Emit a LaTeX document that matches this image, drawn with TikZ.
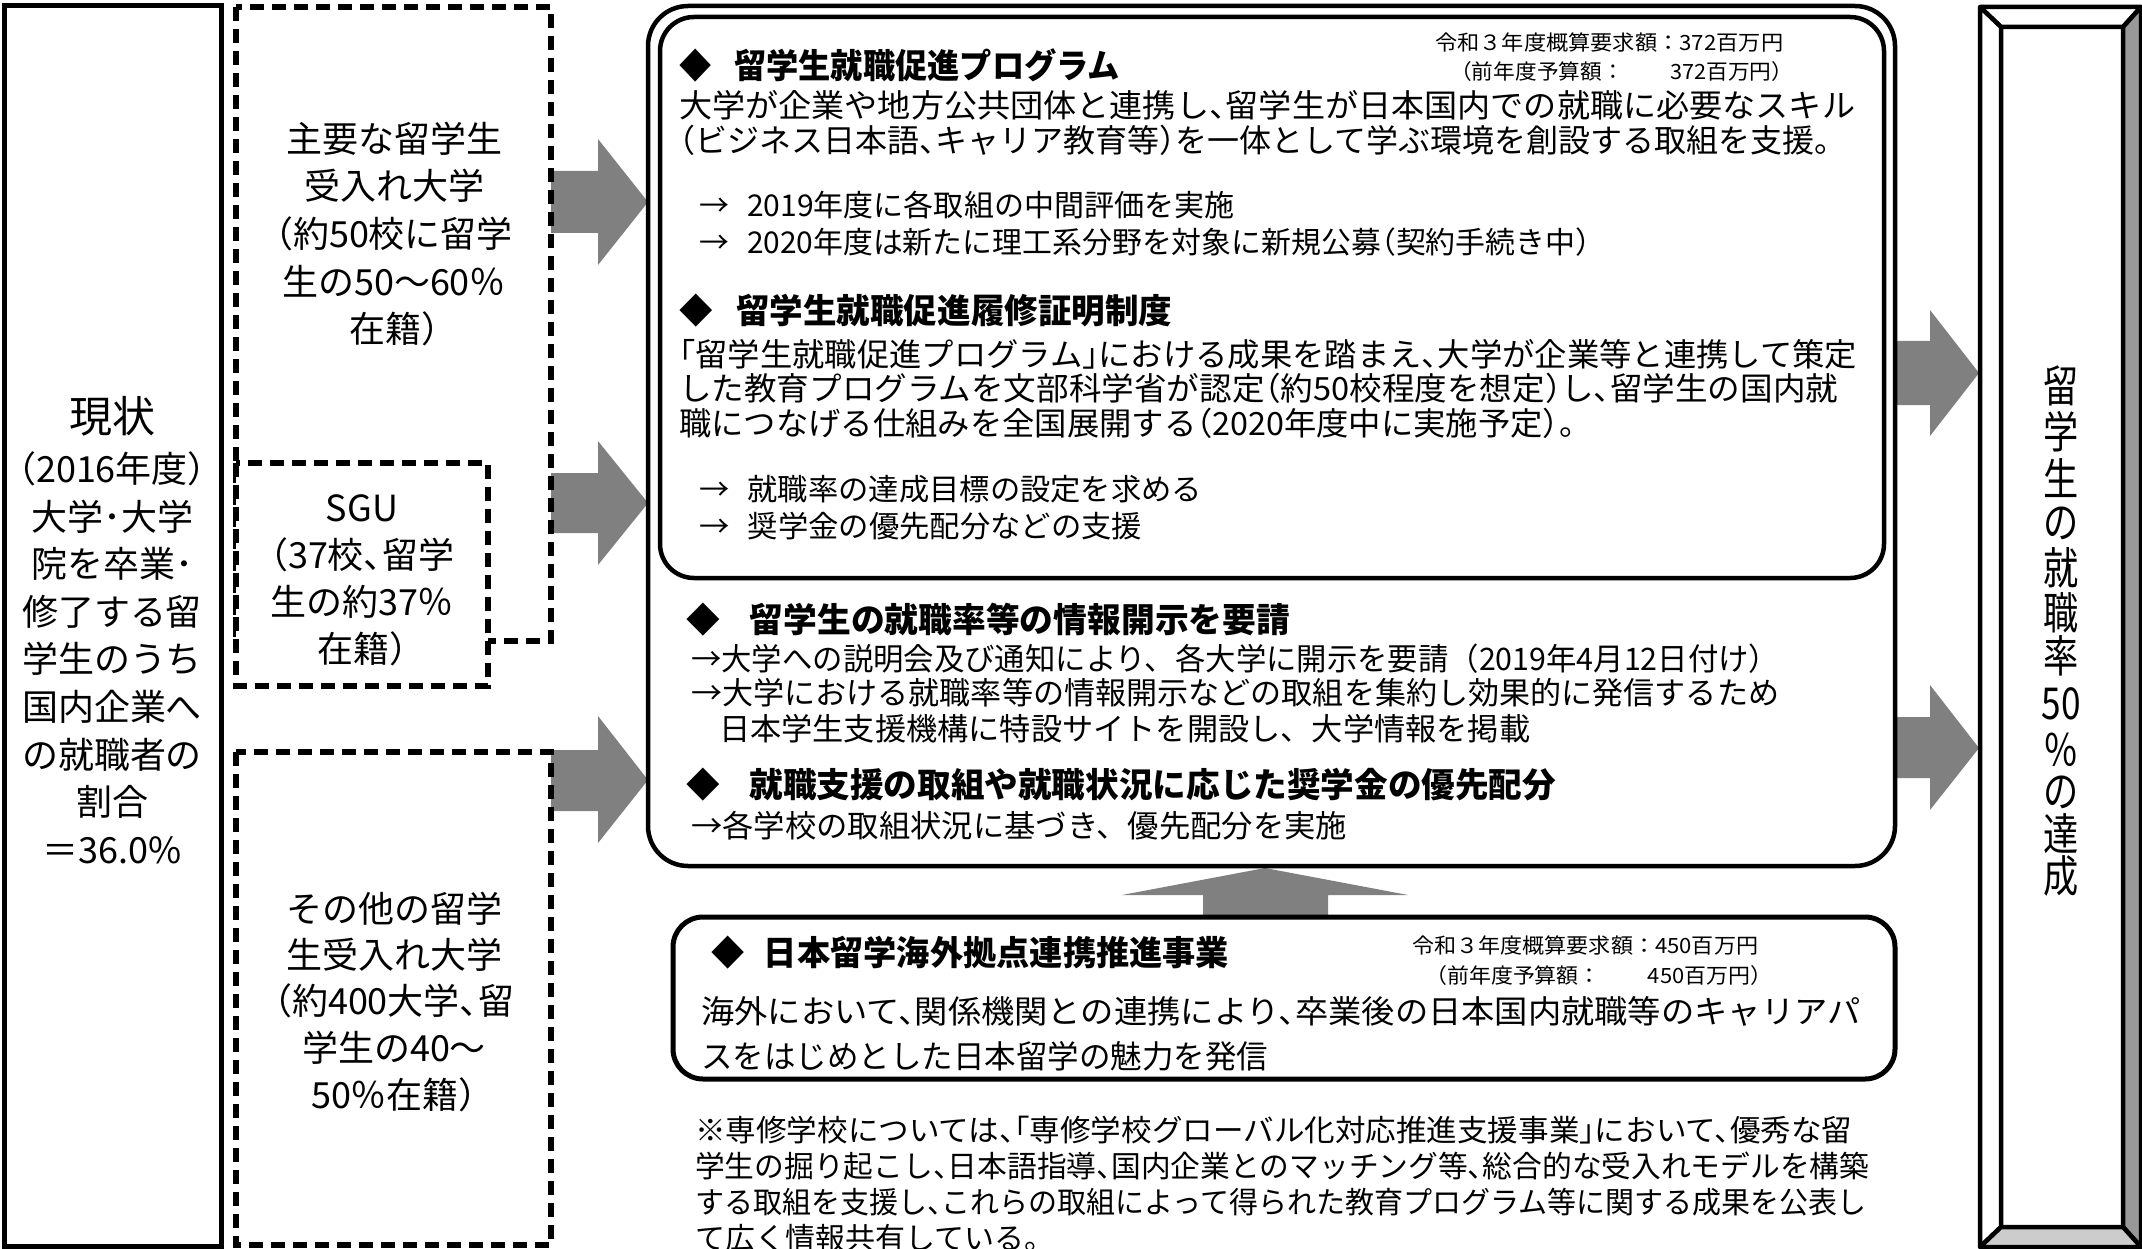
\documentclass[tikz,border=0pt]{standalone}
\usepackage{fontspec}
\usepackage{graphicx}
\setmainfont{Noto Sans CJK JP}[RawFeature=+halt]
\newfontfamily\fullja{Noto Sans CJK JP}
\definecolor{arrowgray}{HTML}{808080}
\definecolor{bevelgray}{HTML}{999999}
\definecolor{bevellight}{HTML}{CCCCCC}
\newcommand{\fs}[1]{\fontsize{#1}{#1}\selectfont}
\newcommand{\myline}[6]{\node[inner sep=0,anchor=west,font=#4] (#1) at (#2,#3) {\resizebox{#5pt}{\height}{#6}};}
\tikzset{
  blockarrow/.style={fill=arrowgray, draw=none},
  solidbox/.style={draw=black, line width=5pt},
  roundbox/.style={draw=black, line width=4.5pt},
  dashbox/.style={draw=black, line width=5.5pt, dash pattern=on 14pt off 8pt},
  lbl/.style={inner sep=0, font=\fs{36}},
  plain/.style={inner sep=0, anchor=west},
}
\begin{document}
\begin{tikzpicture}[x=1pt,y=-1pt]
\useasboundingbox[fill=white] (0,0) rectangle (2142,1249);

% ---- block arrows
\fill[blockarrow] (551,171) -- (598,171) -- (598,139) -- (648,202) -- (598,265) -- (598,233) -- (551,233) -- cycle;
\fill[blockarrow] (551,473) -- (598,473) -- (598,441) -- (648,503) -- (598,565) -- (598,533) -- (551,533) -- cycle;
\fill[blockarrow] (551,750) -- (598,750) -- (598,716) -- (648,780) -- (598,843) -- (598,811) -- (551,811) -- cycle;
\fill[blockarrow] (1894,341) -- (1930,341) -- (1930,310) -- (1979,373) -- (1930,436) -- (1930,405) -- (1894,405) -- cycle;
\fill[blockarrow] (1894,717) -- (1930,717) -- (1930,685) -- (1979,748) -- (1930,810) -- (1930,778) -- (1894,778) -- cycle;
\fill[blockarrow] (1203,917) -- (1203,895) -- (1122,895) -- (1265,868) -- (1408,895) -- (1328,895) -- (1328,917) -- cycle;

% ---- left boxes
\draw[solidbox] (4,6) rectangle (221,1246);
\draw[dashbox] (236,7) rectangle (551,641);
\draw[dashbox, fill=white] (236,463) rectangle (488,686);
\draw[dashbox] (236,752) rectangle (551,1245);

% ---- main box
\draw[roundbox, rounded corners=40pt] (648,6) rectangle (1895,866);
\draw[roundbox, rounded corners=34pt] (660,17) rectangle (1884,578);
% ---- bottom box
\draw[roundbox, line width=5pt, rounded corners=30pt] (673,917) rectangle (1895,1079);

% ---- right bevel panel
\draw[line width=4.5pt, line join=round, fill=white] (1980,7) -- (2141,7) -- (2123,27) -- (2001,27) -- cycle;
\draw[line width=4.5pt, line join=round, fill=white] (1980,7) -- (2001,27) -- (2001,1227) -- (1980,1247) -- cycle;
\draw[line width=4.5pt, line join=round, fill=bevelgray] (2141,7) -- (2141,1247) -- (2123,1227) -- (2123,27) -- cycle;
\draw[line width=4.5pt, line join=round, fill=bevellight] (1980,1247) -- (2141,1247) -- (2123,1227) -- (2001,1227) -- cycle;
\draw[line width=4.5pt] (2001,27) rectangle (2123,1227);

% ---- left labels
\node[inner sep=0, font=\fs{43}] (gen) at (112,416) {現状};
\foreach \t/\yy [count=\i] in {（2016年度）/469, 大学･大学/517, 院を卒業･/564, 修了する留/612, 学生のうち/659, 国内企業へ/707, の就職者の/755, 割合/802, ＝36.0\%/850}
  \node[lbl] (lb\i) at (112,\yy) {\t};
\foreach \t/\yy [count=\i] in {主要な留学生/139, 受入れ大学/186, （約50校に留学/234, 生の50～60％/281, 在籍）/329}
  \node[lbl] (ma\i) at (394,\yy) {\t};
\foreach \t/\yy [count=\i] in {SGU/508, （37校、留学/555, 生の約37％/602, 在籍）/649}
  \node[lbl] (sg\i) at (362,\yy) {\t};
\foreach \t/\yy [count=\i] in {その他の留学/909, 生受入れ大学/955, （約400大学、留/1001, 学生の40～/1048, 50％在籍）/1095}
  \node[lbl] (ot\i) at (394,\yy) {\t};

% ---- right panel text
\foreach \t/\yy [count=\i] in {留/386, 学/432, 生/478, の/523, 就/568, 職/613, 率/656, 50/704, ％/750, の/792, 達/834, 成/876}
  \node[inner sep=0, font=\fs{44}] (rp\i) at (2061,\yy) {\scalebox{0.8}[1]{\t}};

% ---- main box, upper part
\myline{h1}{679}{65}{\fs{34}\bfseries}{441}{◆\hspace{24pt}留学生就職促進プログラム}
\myline{b1a}{1435}{42}{\fs{21}\fullja}{348}{令和３年度概算要求額：372百万円}
\myline{b1b}{1450}{72}{\fs{21}\fullja}{343}{（前年度予算額：\hspace{45pt}372百万円）}
\myline{l1}{679}{105}{\fs{32}}{1176}{大学が企業や地方公共団体と連携し、留学生が日本国内での就職に必要なスキル}
\myline{l2}{679}{140}{\fs{32}}{1151}{（ビジネス日本語、キャリア教育等）を一体として学ぶ環境を創設する取組を支援。}
\myline{a1}{699}{205}{\fs{30}}{535}{→\hspace{18pt}2019年度に各取組の中間評価を実施}
\myline{a2}{699}{242}{\fs{30}}{891}{→\hspace{18pt}2020年度は新たに理工系分野を対象に新規公募（契約手続き中）}
\myline{h2}{679}{311}{\fs{34}\bfseries}{493}{◆\hspace{24pt}留学生就職促進履修証明制度}
\myline{l3}{679}{354}{\fs{32}}{1178}{「留学生就職促進プログラム」における成果を踏まえ、大学が企業等と連携して策定}
\myline{l4}{679}{388}{\fs{32}}{1159}{した教育プログラムを文部科学省が認定（約50校程度を想定）し、留学生の国内就}
\myline{l5}{679}{423}{\fs{32}}{896}{職につなげる仕組みを全国展開する（2020年度中に実施予定）。}
\myline{a3}{699}{489}{\fs{30}}{503}{→\hspace{18pt}就職率の達成目標の設定を求める}
\myline{a4}{699}{526}{\fs{30}}{443}{→\hspace{18pt}奨学金の優先配分などの支援}

% ---- main box, lower part
\myline{h3}{686}{620}{\fs{34}\bfseries}{604}{◆\hspace{30pt}留学生の就職率等の情報開示を要請}
\myline{m1}{691}{659}{\fs{31}\fullja}{1088}{→大学への説明会及び通知により、各大学に開示を要請（2019年4月12日付け）}
\myline{m2}{691}{693}{\fs{31}\fullja}{1088}{→大学における就職率等の情報開示などの取組を集約し効果的に発信するため}
\myline{m3}{719}{729}{\fs{31}\fullja}{811}{日本学生支援機構に特設サイトを開設し、大学情報を掲載}
\myline{h4}{686}{785}{\fs{34}\bfseries}{870}{◆\hspace{30pt}就職支援の取組や就職状況に応じた奨学金の優先配分}
\myline{m4}{691}{826}{\fs{31}\fullja}{656}{→各学校の取組状況に基づき、優先配分を実施}

% ---- bottom box
\myline{bh}{711}{953}{\fs{34}\bfseries}{518}{◆\hspace{20pt}日本留学海外拠点連携推進事業}
\myline{bb1}{1412}{945}{\fs{21}\fullja}{346}{令和３年度概算要求額：450百万円}
\myline{bb2}{1425}{976}{\fs{21}\fullja}{347}{（前年度予算額：\hspace{45pt}450百万円）}
\myline{bl1}{701}{1011}{\fs{32}}{1159}{海外において、関係機関との連携により、卒業後の日本国内就職等のキャリアパ}
\myline{bl2}{701}{1056}{\fs{32}}{567}{スをはじめとした日本留学の魅力を発信}

% ---- footnote
\myline{f1}{695}{1130}{\fs{30}}{1157}{※専修学校については、「専修学校グローバル化対応推進支援事業」において、優秀な留}
\myline{f2}{695}{1166}{\fs{30}}{1174}{学生の掘り起こし、日本語指導、国内企業とのマッチング等、総合的な受入れモデルを構築}
\myline{f3}{695}{1202}{\fs{30}}{1171}{する取組を支援し、これらの取組によって得られた教育プログラム等に関する成果を公表し}
\node[plain, font=\fs{30}] (f4) at (695,1238) {て広く情報共有している。};
\end{tikzpicture}
\end{document}
